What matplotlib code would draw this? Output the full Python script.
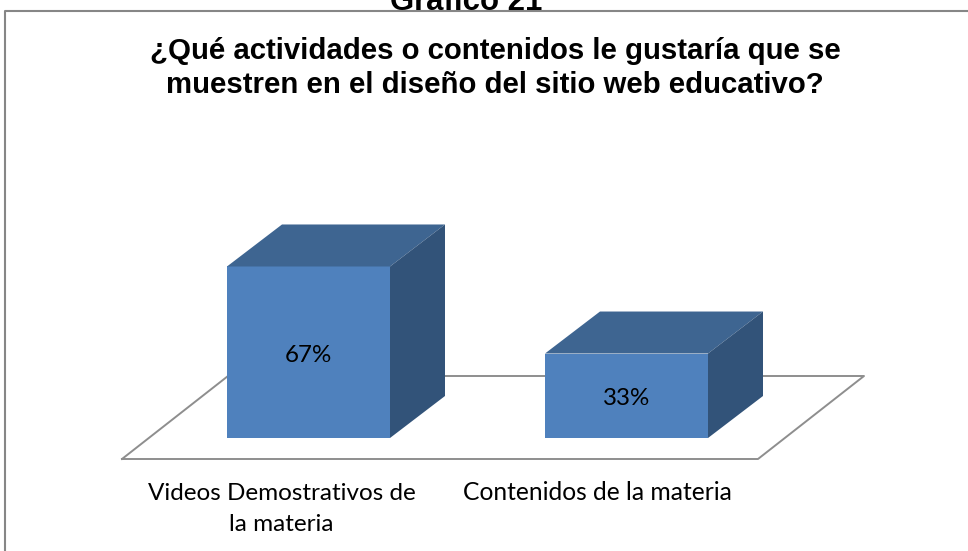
import matplotlib
matplotlib.use("Agg")
import matplotlib.pyplot as plt
from matplotlib.lines import Line2D
from matplotlib.patches import Polygon

categories = ["Videos Demostrativos de\nla materia", "Contenidos de la materia"]
values = [67, 33]
value_labels = ["67%", "33%"]
title = "¿Qué actividades o contenidos le gustaría que se\nmuestren en el diseño del sitio web educativo?"
heading = "Gráfico 21"

W, H = 968, 551
px_x = 318.0   # pixels per category
px_y = 2.56    # pixels per percent
x0, y0 = 308.5, 438.0   # pixel position of first category at 0%

bar_w = 163 / px_x
dx = 55 / px_x
dy = 42 / px_y

fig = plt.figure(figsize=(W / 100, H / 100), dpi=100)
ax = fig.add_axes([0, 0, 1, 1])
ax.set_xlim(-x0 / px_x, (W - x0) / px_x)
ax.set_ylim(-(H - y0) / px_y, y0 / px_y)
ax.axis("off")

# outer frame, only top and left are visible
fig.add_artist(Line2D([5 / W, 5 / W, 1], [0, 1 - 11 / H, 1 - 11 / H], color="#868686", lw=1.5))

# floor
floor_x = [(122 - x0) / px_x, (758 - x0) / px_x, (864 - x0) / px_x, (228 - x0) / px_x, (122 - x0) / px_x]
floor_y = [-21 / px_y, -21 / px_y, 62 / px_y, 62 / px_y, -21 / px_y]
ax.plot(floor_x, floor_y, color="#8e8e8e", lw=1.4, zorder=1)

# bars
for i, v in enumerate(values):
    left = i - bar_w / 2
    right = i + bar_w / 2
    ax.bar(i, v, width=bar_w, color="#4F81BD", zorder=3)
    ax.add_patch(Polygon([(left, v), (right, v), (right + dx, v + dy), (left + dx, v + dy)],
                         facecolor="#3E6591", edgecolor="none", zorder=3))
    ax.add_patch(Polygon([(right, 0), (right + dx, dy), (right + dx, v + dy), (right, v)],
                         facecolor="#325379", edgecolor="none", zorder=3))
    ax.text(i, v / 2 - 1.2, value_labels[i], ha="center", va="center", fontsize=17.4,
            family="Lato", color="black", zorder=4)

ax.text(-0.085, -44.5 / px_y, categories[0], ha="center", va="top", fontsize=17.5,
        family="Lato", linespacing=1.62)
ax.text(1 - 0.09, -43 / px_y, categories[1], ha="center", va="top", fontsize=17.7,
        family="Lato", linespacing=1.62)

fig.text(495 / W, 1 - 68 / H, title, ha="center", va="center", fontsize=21.15, fontweight="bold",
         family="Liberation Sans", linespacing=1.26)
fig.text(466 / W, 1 - 10 / H, heading, ha="center", va="baseline", fontsize=22.4, fontweight="bold",
         family="Liberation Sans")

fig.savefig("out.png", dpi=100)
